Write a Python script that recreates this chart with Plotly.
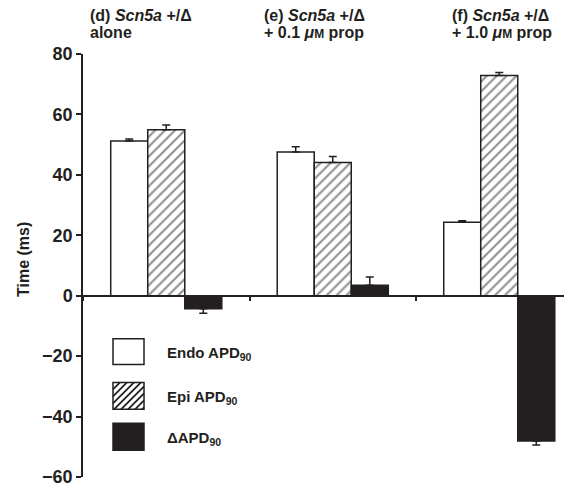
import plotly.graph_objects as go

# ---- data ----
categories = ["alone", "+ 0.1 μM prop", "+ 1.0 μM prop"]
group_labels = ["(d)", "(e)", "(f)"]
series_names = ["Endo APD<sub>90</sub>", "Epi APD<sub>90</sub>", "ΔAPD<sub>90</sub>"]
endo = [51.2, 47.6, 24.3]
endo_err = [0.7, 1.7, 0.5]
epi = [54.9, 44.1, 72.9]
epi_err = [1.6, 2.0, 1.0]
delta = [-4.3, 3.5, -48.1]
delta_err = [1.5, 2.7, 1.3]
y_ticks = [-60, -40, -20, 0, 20, 40, 60, 80]

INK = "#231f20"
OFF = 8  # page body margin of the browser
W, H = 572 - OFF, 487 - OFF
ML, MR, MT, MB = 83 - OFF, 0, 54 - OFF, 8
PW, PH = W - ML - MR, H - MT - MB
FONT = "Liberation Sans, Arial, Helvetica, sans-serif"


def px(xp):
    # reference pixel x -> paper
    return (xp - OFF - ML) / PW


def py(yp):
    # reference pixel y -> paper
    return (H - MB - (yp - OFF)) / PH


xs = list(range(len(categories)))


def errs(vals, e):
    up = [err if v >= 0 else 0 for v, err in zip(vals, e)]
    dn = [err if v < 0 else 0 for v, err in zip(vals, e)]
    return dict(type="data", symmetric=False, array=up, arrayminus=dn,
                color=INK, thickness=1.5, width=4)


fig = go.Figure()
fig.add_trace(go.Bar(x=xs, y=endo, name=series_names[0],
                     marker=dict(color="white", line=dict(color=INK, width=1.5)),
                     error_y=errs(endo, endo_err)))
fig.add_trace(go.Bar(x=xs, y=epi, name=series_names[1],
                     marker=dict(color="white", line=dict(color=INK, width=1.5),
                                 pattern=dict(shape="/", size=7, solidity=0.3,
                                              fgcolor=INK, bgcolor="white")),
                     error_y=errs(epi, epi_err)))
fig.add_trace(go.Bar(x=xs, y=delta, name=series_names[2],
                     marker=dict(color=INK, line=dict(color=INK, width=1.5)),
                     error_y=errs(delta, delta_err)))

ymin, ymax = -60, 80
fig.update_layout(
    width=W, height=H,
    margin=dict(l=ML, r=MR, t=MT, b=MB),
    paper_bgcolor="white", plot_bgcolor="white",
    barmode="group", bargap=0.333, bargroupgap=0,
    showlegend=False,
    font=dict(family=FONT, color=INK),
    xaxis=dict(
        range=[-0.5, -0.5 + PW / 166.5], showgrid=False, zeroline=False,
        anchor="free", position=(0 - ymin) / (ymax - ymin),
        showline=True, linecolor=INK, linewidth=1.5,
        ticks="outside", ticklen=5, tickwidth=1.5, tickcolor=INK,
        tickmode="array", tickvals=[-0.5, 0.5, 1.5], showticklabels=False,
    ),
    yaxis=dict(
        range=[ymin, ymax], showgrid=False, zeroline=False,
        showline=True, linecolor=INK, linewidth=1.5,
        ticks="outside", ticklen=5, tickwidth=1.5, tickcolor=INK,
        tickmode="array", tickvals=y_ticks, ticklabeloverflow="allow",
        tickfont=dict(family=FONT, size=18, color=INK, weight="bold"),
    ),
)

# y axis title
fig.add_annotation(xref="paper", yref="paper", x=px(23), y=py(261),
                   text="<b>Time (ms)</b>", textangle=-90, showarrow=False,
                   font=dict(family=FONT, size=16, color=INK),
                   xanchor="center", yanchor="middle")

# panel titles
title_x = [89, 263, 451]
for i, (g, c) in enumerate(zip(group_labels, categories)):
    line1 = f"<b>{g} <i>Scn5a</i> +/Δ</b>"
    if c.startswith("+"):
        parts = c.split("μM")
        line2 = f"<b>{parts[0]}<i>μ</i><span style='font-size:12px'>M</span>{parts[1]}</b>"
    else:
        line2 = f"<b>{c}</b>"
    for txt, yp in ((line1, 15), (line2, 32)):
        fig.add_annotation(xref="paper", yref="paper", x=px(title_x[i]), y=py(yp),
                           text=txt, showarrow=False, xanchor="left", yanchor="middle",
                           borderpad=0,
                           font=dict(family=FONT, size=16, color=INK))

# manual legend
box_x0, box_x1 = 113, 144
boxes = [(340, 366), (384, 411), (425, 452)]
text_y = [355, 399, 440]
for k, ((y0, y1), name) in enumerate(zip(boxes, series_names)):
    fill = INK if k == 2 else "white"
    fig.add_shape(type="rect", xref="paper", yref="paper",
                  x0=px(box_x0), x1=px(box_x1), y0=py(y1), y1=py(y0),
                  fillcolor=fill, line=dict(color=INK, width=1.5), layer="above")
    if k == 1:
        path = ""
        step = 7
        c = box_x0 + y0 + step
        while c < box_x1 + y1:
            xa = max(box_x0, c - y1)
            xb = min(box_x1, c - y0)
            if xb > xa:
                path += f"M{px(xa)},{py(c - xa)} L{px(xb)},{py(c - xb)} "
            c += step
        fig.add_shape(type="path", xref="paper", yref="paper", path=path,
                      line=dict(color=INK, width=1.8), layer="above")
    fig.add_annotation(xref="paper", yref="paper", x=px(165), y=py(text_y[k]),
                       text=f"<b>{name}</b>", showarrow=False,
                       xanchor="left", yanchor="middle",
                       font=dict(family=FONT, size=15, color=INK))

fig.write_html("out.html")
